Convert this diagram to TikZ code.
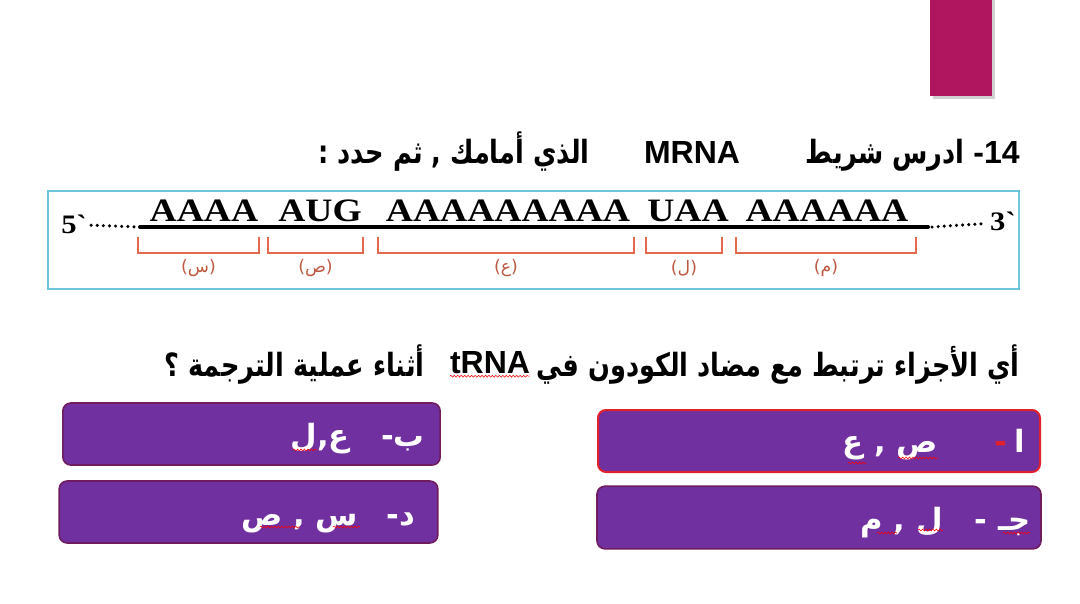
\documentclass[tikz,border=0pt]{standalone}
\usepackage{fontspec}
\setmainfont{Liberation Sans}
\newfontfamily\arabicfont[Script=Arabic]{DejaVu Sans}
\newfontfamily\arabicnarrow[Script=Arabic, FakeStretch=0.8]{DejaVu Sans}
\newfontfamily\seqfont[FakeStretch=1.15]{Liberation Serif}
\usepackage{xcolor}
\usetikzlibrary{positioning,decorations.pathmorphing}
\TeXXeTstate=1
\definecolor{slidemag}{HTML}{B0155F}
\definecolor{frameblue}{HTML}{6CC5DA}
\definecolor{brkred}{HTML}{E0694E}
\definecolor{optfill}{HTML}{7030A0}
\definecolor{optedge}{HTML}{6E1C5E}
\definecolor{optred}{HTML}{E0202A}

\begin{document}
\begin{tikzpicture}[x=0.75pt, y=-0.75pt,
  heading/.style={font=\bfseries\fontsize{24}{28}\selectfont, inner sep=0pt},
  seq/.style={font=\seqfont\bfseries\fontsize{24.5}{26}\selectfont, inner sep=0pt},
  prime/.style={font=\seqfont\bfseries\fontsize{20}{22}\selectfont, inner sep=0pt},
  strand/.style={line width=3pt, line cap=round},
  dots/.style={line width=2.6pt, line cap=round, dash pattern=on 0pt off 4.6pt},
  brk/.style={draw=brkred, line width=1.4pt},
  brklabel/.style={text=brkred!85!black, font=\arabicfont\fontsize{13}{15}\selectfont, inner sep=0pt},
  optbox/.style={draw=optedge, line width=1.2pt, fill=optfill, rounded corners=6pt,
    minimum height=46.5pt},
  opttext/.style={text=white, font=\arabicfont\bfseries\fontsize{23}{26}\selectfont, inner sep=0pt},
  squig/.style={draw=red, line width=0.4pt, decorate,
    decoration={snake, amplitude=0.7pt, segment length=2.6pt}},
]
\useasboundingbox (0,0) rectangle (1080,603);

% slide ornament
\fill[black!18] (933,0) rectangle (995,99);
\fill[slidemag] (930,0) rectangle (992,96);

% heading
\node[heading, anchor=base east] (h1) at (1020,163) {{\arabicnarrow\beginR ادرس شريط\endR} -14};
\node[heading, anchor=base] (mrna) at (692,163) {MRNA};
\node[heading, anchor=base east] (h2) at (590,163) {\arabicnarrow\beginR الذي أمامك , ثم حدد :\endR};

% mRNA figure
\draw[frameblue, line width=0.9pt] (48,191) rectangle (1019,289);
\node[prime, anchor=base west] (five) at (61,233) {5`};
\node[prime, anchor=base east] (three) at (1016,230) {3`};
\coordinate (s5) at (140,227);
\coordinate (s3) at (928,227);
\draw[dots] (five.east) ++(3pt,-1pt) coordinate (d5) (d5) -- (s5);
\draw[dots] (s3) ++(4,0) coordinate (d3) (d3) -- ([xshift=-3pt,yshift=-2pt]three.west);
\draw[strand] (s5) -- (s3);

\node[seq, anchor=base] (g1) at (204,221) {AAAA};
\node[seq, anchor=base] (g2) at (320,221) {AUG};
\node[seq, anchor=base] (g3) at (508,221) {AAAAAAAAA};
\node[seq, anchor=base] (g4) at (688,221) {UAA};
\node[seq, anchor=base] (g5) at (827,221) {AAAAAA};

\foreach \l/\r/\t/\n in {138/259/س/bs, 268/363/ص/bc, 378/634/ع/ba, 646/722/ل/bl, 736/916/م/bm}{
  \draw[brk] (\l,237) |- (\r,253) -- (\r,237);
  \node[brklabel] (\n) at ({(\l+\r)/2},268) {(\t)};
}

% question
\node[heading, anchor=base east] (q1) at (1020,376) {\arabicnarrow\beginR أي الأجزاء ترتبط مع مضاد الكودون في\endR};
\node[heading, anchor=base] (trna) at (490,373) {tRNA};
\node[heading, anchor=base east] (q2) at (425,376) {\arabicnarrow\beginR أثناء عملية الترجمة ؟\endR};
\draw[squig] (trna.south west) ++(0,-2pt) -- ++(80,0);

% answer boxes
\node[optbox, draw=optred, line width=1.5pt, minimum width=331.5pt] (oa) at (819,441) {};
\node[optbox, minimum width=333pt, minimum height=47pt] (oc) at (819,517.5) {};
\node[optbox, minimum width=283pt] (ob) at (251.5,434) {};
\node[optbox, minimum width=284pt] (od) at (248.5,512) {};

\node[opttext, anchor=base east] (pa) at (1025,452) {{\color{optred}-}\hspace{5pt}ا};
\node[opttext, anchor=base east] (ta) at (938,452) {\beginR ص , ع\endR};
\node[opttext, anchor=base east] (pc) at (1031,530) {\beginR جـ -\endR};
\node[opttext, anchor=base east] (tc) at (943,530) {\beginR ل , م\endR};
\node[opttext, anchor=base east] (pb) at (425,446) {\beginR ب-\endR};
\node[opttext, anchor=base east] (tb) at (350,446) {\beginR ع,ل\endR};
\node[opttext, anchor=base east] (pd) at (415,525) {\beginR د-\endR};
\node[opttext, anchor=base east] (td) at (358,525) {\beginR س , ص\endR};

\draw[squig] (898,458) -- (938,458);
\draw[squig] (848,463) -- (866,463);
\draw[squig] (1003,533) -- (1030,533);
\draw[squig] (918,530) -- (943,530);
\draw[squig] (877,533) -- (897,533);
\draw[squig] (293,450) -- (317,450);
\draw[squig] (260,527) -- (300,527);
\draw[squig] (333,527) -- (360,527);
\end{tikzpicture}
\end{document}
